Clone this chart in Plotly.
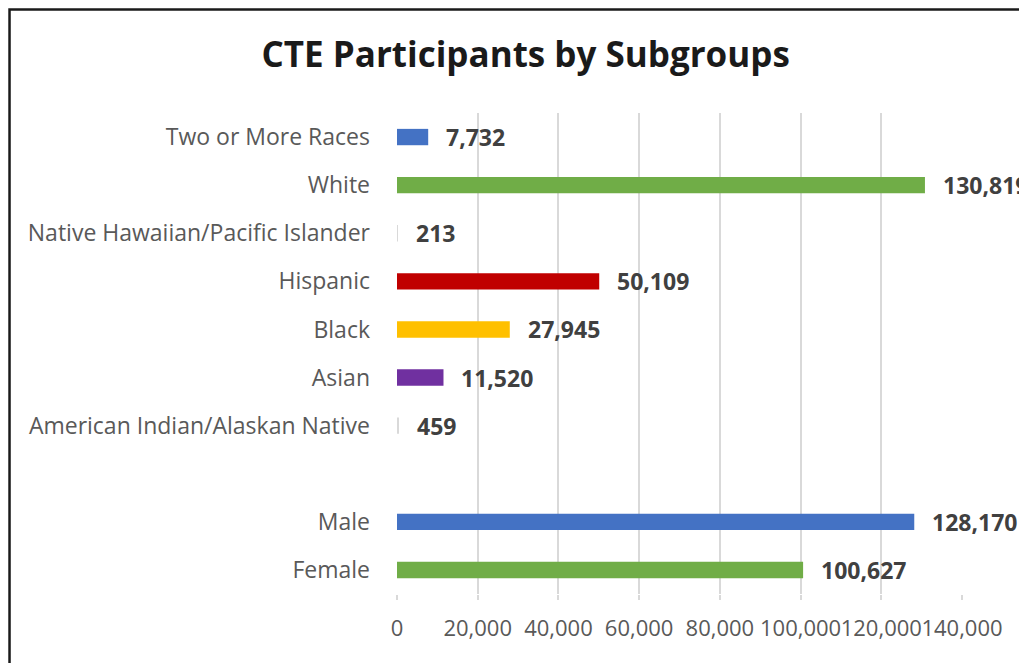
import plotly.graph_objects as go

categories = ["Two or More Races", "White", "Native Hawaiian/Pacific Islander", "Hispanic",
              "Black", "Asian", "American Indian/Alaskan Native", " ", "Male", "Female"]
values = [7732, 130819, 213, 50109, 27945, 11520, 459, None, 128170, 100627]
labels = ["7,732", "130,819", "213", "50,109", "27,945", "11,520", "459", "", "128,170", "100,627"]
colors = ["#4472C4", "#70AD47", "#D9D9D9", "#C00000", "#FFC000", "#7030A0", "#D9D9D9",
          "#FFFFFF", "#4472C4", "#70AD47"]
tick_vals = [0, 20000, 40000, 60000, 80000, 100000, 120000, 140000]
tick_text = ["0", "20,000", "40,000", "60,000", "80,000", "100,000", "120,000", "140,000"]
title = "CTE Participants by Subgroups"

fig = go.Figure()
fig.add_trace(go.Bar(
    y=categories, x=[v if v is not None else 0 for v in values], orientation="h",
    marker=dict(color=colors, line=dict(width=0)), width=0.34, hoverinfo="skip",
))

for cat, v, lab in zip(categories, values, labels):
    if v is None:
        continue
    fig.add_annotation(x=v, y=cat, text=lab, showarrow=False, xanchor="left", xshift=16,
                       font=dict(family="Open Sans", size=23, color="#404040", weight="bold"))

fig.add_shape(type="rect", xref="paper", yref="paper", x0=-0.6858, x1=1.3, y0=-0.3, y1=1.2152,
              line=dict(color="#1a1a1a", width=2.5), fillcolor="rgba(0,0,0,0)", layer="above")

fig.update_layout(
    width=1019, height=655,
    margin=dict(l=389, r=65, t=105, b=69, autoexpand=False),
    paper_bgcolor="white", plot_bgcolor="white",
    showlegend=False,
    title=dict(text=title, x=0.508, xanchor="center", y=0.928, yanchor="middle",
               font=dict(family="Open Sans", size=35, color="#1a1a1a", weight="bold")),
    xaxis=dict(range=[0, 140000], tickvals=tick_vals, ticktext=tick_text, tickangle=0,
               automargin=False,
               showgrid=True, gridcolor="#D9D9D9", gridwidth=1.5, zeroline=False,
               ticks="outside", ticklen=5, tickcolor="#D9D9D9", tickwidth=1.5,
               ticklabelstandoff=10,
               tickfont=dict(family="Open Sans", size=22, color="#595959"),
               showline=False, fixedrange=True),
    yaxis=dict(categoryorder="array", categoryarray=categories, autorange="reversed",
               automargin=False,
               tickfont=dict(family="Open Sans", size=23, color="#595959"),
               ticks="", ticklabelstandoff=26, showgrid=False, zeroline=False, showline=False),
)

fig.write_html("out.html")
